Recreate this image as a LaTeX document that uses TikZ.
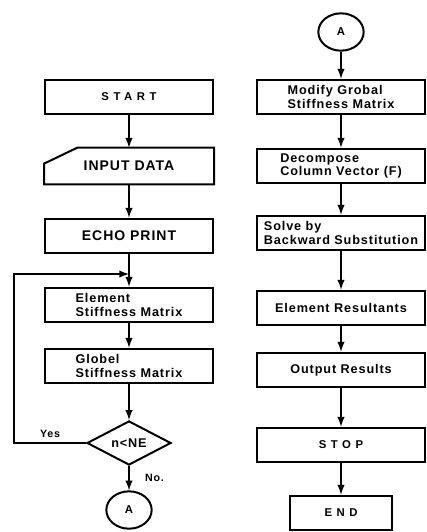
\documentclass[tikz,border=0pt]{standalone}
\usepackage{fontspec}
\setmainfont{Liberation Sans}[LetterSpace=7]
\newfontfamily\widefont{Liberation Sans}[LetterSpace=40]
\usetikzlibrary{shapes.geometric}

\begin{document}
\begin{tikzpicture}[
    x=0.75pt, y=-0.75pt,
    box/.style={rectangle, draw, line width=1.5pt, minimum width=126pt, minimum height=26pt, inner sep=2pt, font=\fontsize{9.5}{10}\selectfont\bfseries, align=left},
    caps/.style={box, font=\fontsize{10.5}{11}\selectfont\bfseries},
    wide/.style={box, font=\fontsize{8.5}{9}\selectfont\bfseries\widefont},
    test/.style={diamond, draw, line width=1.5pt, minimum width=63pt, minimum height=30pt, inner sep=0pt, font=\fontsize{9.5}{10}\selectfont\bfseries},
    conn/.style={ellipse, draw, line width=1.5pt, minimum width=34pt, minimum height=28pt, inner sep=0pt, font=\fontsize{8.5}{9}\selectfont\bfseries},
    arrow/.style={->, line width=1.5pt, >=latex},
    label/.style={font=\fontsize{8}{9}\selectfont\bfseries}
  ]
  \useasboundingbox (0,0) rectangle (427,532);

  % left column
  \node[wide] (start)  at (129,97)  {START};
  \node[caps, draw=none] (indata) at (129,166) {INPUT DATA};
  \draw[line width=1.5pt] (indata.north east) -- (indata.south east) -- (indata.south west)
    -- ([yshift=-12pt]indata.north west) -- ([xshift=25pt]indata.north west) -- cycle;
  \node[caps] (echo)   at (129,236) {ECHO PRINT};
  \node[box] (elem)    at (129,305) {Element\\Stiffness Matrix};
  \node[box] (glob)    at (129,366) {Globel\\Stiffness Matrix};
  \node[test] (check)  at (129,443) {n<NE};
  \node[conn] (outA)   at (129,510) {A};
  \coordinate (loop)   at (129,274);

  \draw[arrow] (start)  -- (indata);
  \draw[arrow] (indata) -- (echo);
  \draw[arrow] (echo)   -- (elem);
  \draw[arrow] (elem)   -- (glob);
  \draw[arrow] (glob)   -- (check);
  \draw[arrow] (check)  -- (outA) node[midway, label, right=8pt] {No.};
  \draw[arrow] (check.west) -- node[label, above] {Yes} ++(-72,0) |- (loop);

  % right column
  \node[conn] (inA)    at (341,32)  {A};
  \node[box] (modify)  at (341,97)  {Modify Grobal\\Stiffness Matrix};
  \node[box] (decomp)  at (341,166) {Decompose\\Column Vector (F)};
  \node[box] (solve)   at (341,233) {Solve by\\Backward Substitution};
  \node[box] (result)  at (341,308) {Element Resultants};
  \node[box] (output)  at (341,370) {Output Results};
  \node[wide] (stop)   at (341,445) {STOP};
  \node[wide, minimum width=77pt] (finish) at (341,513) {END};

  \draw[arrow] (inA)    -- (modify);
  \draw[arrow] (modify) -- (decomp);
  \draw[arrow] (decomp) -- (solve);
  \draw[arrow] (solve)  -- (result);
  \draw[arrow] (result) -- (output);
  \draw[arrow] (output) -- (stop);
  \draw[arrow] (stop)   -- (finish);
\end{tikzpicture}
\end{document}
